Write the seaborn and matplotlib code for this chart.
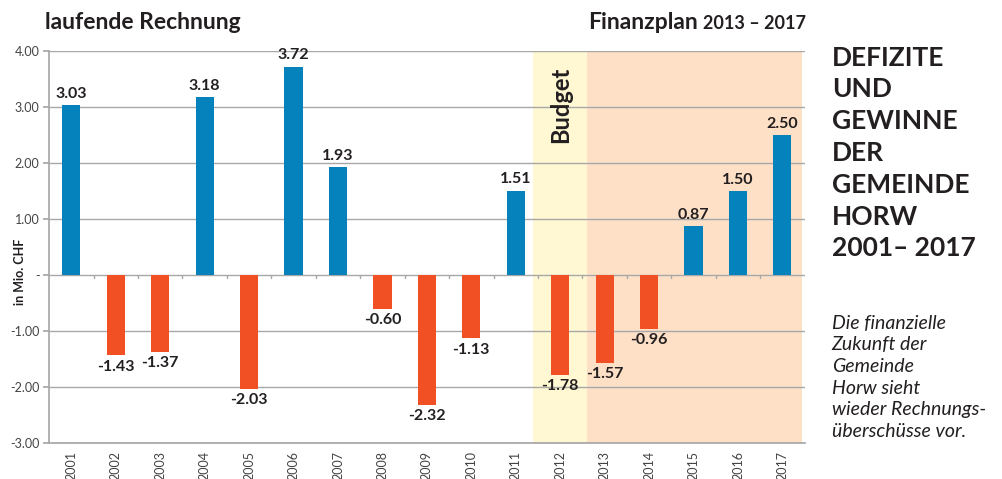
import matplotlib
matplotlib.use("Agg")
import matplotlib.pyplot as plt
import seaborn as sns
import pandas as pd
import numpy as np

years = ["2001", "2002", "2003", "2004", "2005", "2006", "2007", "2008", "2009",
         "2010", "2011", "2012", "2013", "2014", "2015", "2016", "2017"]
values = [3.03, -1.43, -1.37, 3.18, -2.03, 3.72, 1.93, -0.60, -2.32,
          -1.13, 1.51, -1.78, -1.57, -0.96, 0.87, 1.50, 2.50]
yticks = [4, 3, 2, 1, 0, -1, -2, -3]
ytick_labels = ["4.00", "3.00", "2.00", "1.00", "-", "-1.00", "-2.00", "-3.00"]

BLUE = "#0581BB"
RED = "#F15025"
YELLOW = "#FFF8D2"
PEACH = "#FDE0C6"
GRID = "#A8A8A8"
TXT = "#231F20"

sns.set_theme(style="white")
plt.rcParams["font.family"] = ["Lato", "DejaVu Sans"]

df = pd.DataFrame({"year": years, "value": values})
df["sign"] = np.where(df["value"] >= 0, "pos", "neg")

fig = plt.figure(figsize=(10.02, 4.79), dpi=100)
ax = fig.add_axes([0.049, 0.0752, 0.754, 0.818])

# background bands
ax.axvspan(10.38, 11.61, color=YELLOW, zorder=0, lw=0)
ax.axvspan(11.61, 16.45, color=PEACH, zorder=0, lw=0)

sns.barplot(data=df, x="year", y="value", hue="sign", order=years,
            palette={"pos": BLUE, "neg": RED}, dodge=False, width=0.41,
            legend=False, ax=ax, zorder=3, saturation=1, linewidth=0,
            edgecolor="none")

ax.set_xlim(-0.5, 16.5)
ax.set_ylim(-3, 4)
ax.set_yticks(yticks)
ax.set_yticklabels(ytick_labels, fontsize=9, color="#444444")
for y in yticks:
    ax.axhline(y, color=GRID, lw=1, zorder=2)

for sp in ["top", "right"]:
    ax.spines[sp].set_visible(False)
ax.spines["left"].set_color(GRID)
ax.spines["bottom"].set_color(GRID)
ax.tick_params(axis="y", length=4, color=GRID, left=True, pad=3)
ax.tick_params(axis="x", length=0, pad=6)
ax.set_xticks(range(len(years)))
ax.set_xticklabels(years, rotation=90, fontsize=9, color="#444444")
ax.set_xlabel("")
ax.set_ylabel("")
fig.text(0.020, 0.432, "in Mio. CHF", rotation=90, fontsize=9,
         fontweight="bold", color=TXT, ha="center", va="center")

# small ticks on zero line at category boundaries
for b in np.arange(0.5, 16.5, 1):
    ax.plot([b, b], [0, -0.06], color=GRID, lw=1, zorder=2)

for i, v in enumerate(values):
    if v >= 0:
        ax.text(i, v + 0.08, f"{v:.2f}", ha="center", va="bottom", fontsize=11.5,
                fontweight="bold", color=TXT, zorder=5)
    else:
        ax.text(i, v - 0.08, f"{v:.2f}", ha="center", va="top", fontsize=11.5,
                fontweight="bold", color=TXT, zorder=5)

ax.text(11, 3.04, "Budget", rotation=90, ha="center", va="center",
        fontsize=17, fontweight="bold", color=TXT, zorder=5)

fig.text(0.045, 0.953, "laufende Rechnung", fontsize=16.5, fontweight="bold",
         color=TXT, ha="left", va="center")
fig.text(0.587, 0.953, "Finanzplan", fontsize=16.5, fontweight="bold",
         color=TXT, ha="left", va="center")
fig.text(0.804, 0.950, "2013 – 2017", fontsize=13, fontweight="bold",
         color=TXT, ha="right", va="center")

fig.text(0.830, 0.905,
         "DEFIZITE\nUND\nGEWINNE\nDER\nGEMEINDE\nHORW\n2001– 2017",
         fontsize=19, fontweight="bold", color=TXT, ha="left", va="top",
         linespacing=1.39)
fig.text(0.830, 0.343,
         "Die finanzielle\nZukunft der\nGemeinde\nHorw sieht\nwieder Rechnungs-\nüberschüsse vor.",
         fontsize=14, style="italic", color=TXT, ha="left", va="top",
         linespacing=1.33)

fig.savefig("out.png", dpi=100)
